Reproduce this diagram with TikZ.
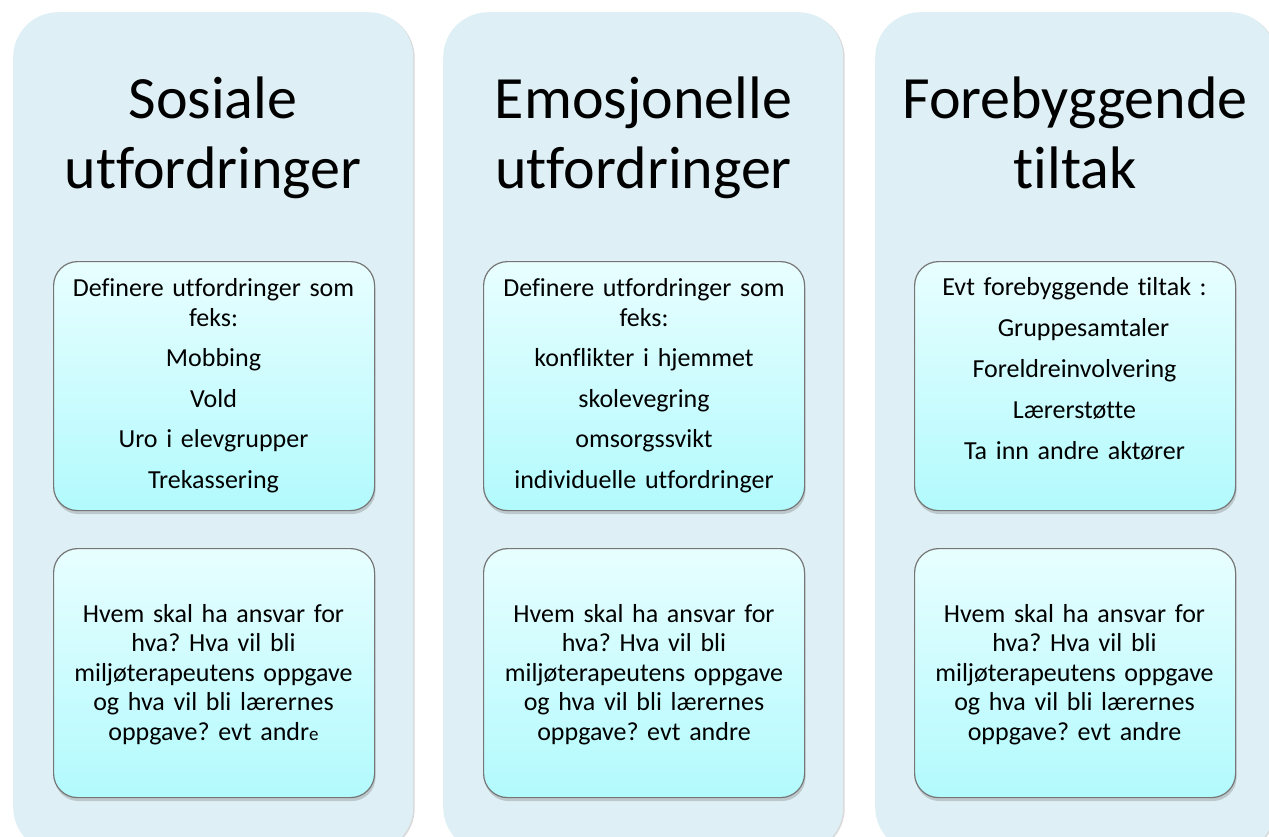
\documentclass[tikz,border=0pt]{standalone}
\usepackage{fontspec}
\setmainfont{Carlito}[Ligatures=NoCommon]
\frenchspacing
\usetikzlibrary{shadows}
\definecolor{colfill}{RGB}{222,240,245}
\definecolor{boxtop}{RGB}{232,254,255}
\definecolor{boxbot}{RGB}{178,250,253}
\definecolor{boxline}{RGB}{118,118,118}
\begin{document}
\begin{tikzpicture}[x=1pt,y=-1pt,
  column/.style={rectangle, fill=colfill, rounded corners=45pt, draw=none, minimum width=400pt, minimum height=840pt, anchor=north west, inner sep=0pt,
    drop shadow={shadow xshift=1.5pt, shadow yshift=-1pt, opacity=0.15, fill=black}},
  header/.style={anchor=base, text width=400pt, align=center, font=\fontsize{60}{70}\selectfont, inner sep=0pt},
  card/.style={rectangle, rounded corners=24pt, draw=boxline, line width=1.2pt, top color=boxtop, bottom color=boxbot,
    minimum width=321pt, minimum height=249pt, anchor=north west, inner sep=0pt,
    drop shadow={shadow xshift=1pt, shadow yshift=-3.5pt, opacity=0.35}},
  cardtext/.style={anchor=base, text width=321pt, align=center, font=\fontsize{26}{29.5}\selectfont\frenchspacing, inner sep=0pt},
]
\clip (0,0) rectangle (1269,836);
\useasboundingbox (0,0) rectangle (1269,836);
\fill[white] (0,0) rectangle (1269,836);

% columns
\node[column] (col1) at (13,12) {};
\node[column] (col2) at (443,12) {};
\node[column] (col3) at (875,12) {};

% headers
\node[header] (h1) at (213,118) {Sosiale\\utfordringer};
\node[header] (h2) at (643.5,118) {Emosjonelle\\utfordringer};
\node[header] (h3) at (1075,118) {Forebyggende\\tiltak};

% top cards
\node[card] (a1) at (53,261) {};
\node[card] (a2) at (483,261) {};
\node[card] (a3) at (914,261) {};
% bottom cards
\node[card] (b1) at (53,548) {};
\node[card] (b2) at (483,548) {};
\node[card] (b3) at (914,548) {};

% top card texts
\node[cardtext] (ta1) at (213.5,296.5) {Definere utfordringer som\\feks:\\[11pt]Mobbing\\[11pt]Vold\\[11pt]Uro i elevgrupper\\[11pt]Trekassering};
\node[cardtext] (ta2) at (644,296.5) {Definere utfordringer som\\feks:\\[11pt]konflikter i hjemmet\\[11pt]skolevegring\\[11pt]omsorgssvikt\\[11pt]individuelle utfordringer};
\node[cardtext] (ta3) at (1074.5,295) {Evt forebyggende tiltak :\\[11.5pt]\hspace*{18pt}Gruppesamtaler\\[11.5pt]Foreldreinvolvering\\[11.5pt]Lærerstøtte\\[11.5pt]Ta inn andre aktører};

% bottom card texts
\node[cardtext] (tb1) at (213.5,622) {Hvem skal ha ansvar for\\hva? Hva vil bli\\miljøterapeutens oppgave\\og hva vil bli lærernes\\oppgave? evt andr{\fontsize{19}{19}\selectfont e}};
\node[cardtext] (tb2) at (644,622) {Hvem skal ha ansvar for\\hva? Hva vil bli\\miljøterapeutens oppgave\\og hva vil bli lærernes\\oppgave? evt andre};
\node[cardtext] (tb3) at (1074.5,622) {Hvem skal ha ansvar for\\hva? Hva vil bli\\miljøterapeutens oppgave\\og hva vil bli lærernes\\oppgave? evt andre};
\end{tikzpicture}
\end{document}
